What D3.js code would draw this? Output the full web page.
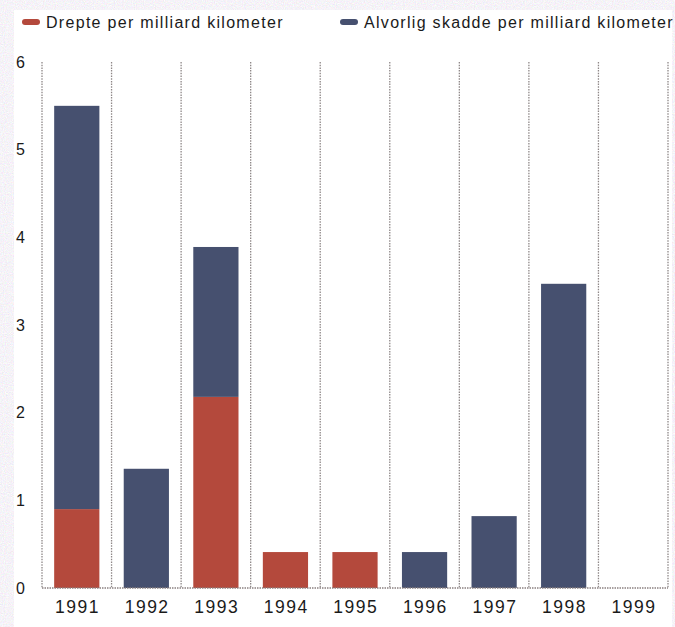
<!DOCTYPE html>
<html>
<head>
<meta charset="utf-8">
<script src="https://cdn.jsdelivr.net/npm/d3@7"></script>
<style>
  html, body { margin: 0; padding: 0; background: #ece8ec; }
  svg { display: block; }
  text { font-family: "Liberation Sans", Arial, sans-serif; fill: #1a1a1a; }
</style>
</head>
<body>
<svg id="chart" width="675" height="627"></svg>
<script>
// Road accidents per billion kilometres, by year
const years = ["1991", "1992", "1993", "1994", "1995", "1996", "1997", "1998", "1999"];
const killed = [0.90, 0, 2.18, 0.41, 0.41, 0, 0, 0, 0];
const injured = [4.60, 1.36, 1.71, 0, 0, 0.41, 0.82, 3.47, 0];
const seriesNames = ["Drepte per milliard kilometer", "Alvorlig skadde per milliard kilometer"];
const seriesColors = ["#b4493c", "#46506f"];
const yTicks = [0, 1, 2, 3, 4, 5, 6];

const svg = d3.select("#chart");
const W = 675, H = 627;

// grainy backdrop with a white panel on top
const defs = svg.append("defs");
const f = defs.append("filter").attr("id", "grain").attr("x", 0).attr("y", 0).attr("width", "100%").attr("height", "100%");
f.append("feTurbulence").attr("type", "fractalNoise").attr("baseFrequency", 0.9).attr("numOctaves", 2).attr("seed", 3).attr("result", "n");
f.append("feColorMatrix").attr("in", "n").attr("type", "matrix")
  .attr("values", "0.35 0 0 0 0.74  0 0.35 0 0 0.72  0 0 0.35 0 0.76  0 0 0 0 1");
svg.append("rect").attr("width", W).attr("height", H).attr("filter", "url(#grain)");
svg.append("rect").attr("x", 14).attr("y", 10).attr("width", 658).attr("height", H - 10).attr("fill", "#ffffff");

const margin = { left: 42, right: 7, top: 62, bottom: 39 };
const x = d3.scaleBand().domain(years).range([margin.left, W - margin.right]).paddingInner(0.35).paddingOuter(0.175);
const y = d3.scaleLinear().domain([0, 6]).range([H - margin.bottom, margin.top]);

// vertical separators between years
const bounds = years.map(yr => x(yr) - x.step() * x.paddingInner() / 2);
bounds.push(W - margin.right);
svg.append("g").selectAll("line").data(bounds).join("line")
  .attr("x1", d => d).attr("x2", d => d)
  .attr("y1", y(6)).attr("y2", y(0))
  .attr("stroke", "#8f8888").attr("stroke-width", 1.3).attr("stroke-dasharray", "1.5,1.2");

// stacked bars
const rows = years.map((yr, i) => ({ year: yr, killed: killed[i], injured: injured[i] }));
const stack = d3.stack().keys(["killed", "injured"])(rows);
svg.append("g").selectAll("g").data(stack).join("g")
  .attr("fill", (d, i) => seriesColors[i])
  .selectAll("rect").data(d => d).join("rect")
  .attr("x", d => x(d.data.year))
  .attr("width", x.bandwidth())
  .attr("y", d => y(d[1]))
  .attr("height", d => y(d[0]) - y(d[1]));

// baseline
svg.append("line")
  .attr("x1", margin.left).attr("x2", W - margin.right)
  .attr("y1", y(0)).attr("y2", y(0))
  .attr("stroke", "#8a8080").attr("stroke-width", 1.3).attr("stroke-dasharray", "1.5,1");

// y axis labels
const yAxis = d3.axisLeft(y).tickValues(yTicks).tickSize(0).tickPadding(0).tickFormat(d3.format("d"));
const gy = svg.append("g").attr("transform", "translate(25,0)").call(yAxis);
gy.select(".domain").remove();
gy.selectAll("text").attr("font-size", 16).attr("font-family", "Liberation Sans, Arial, sans-serif").attr("fill", "#1a1a1a");

// x axis labels
const xAxis = d3.axisBottom(x).tickSize(0).tickPadding(0);
const gx = svg.append("g").attr("transform", `translate(0.8,${y(0) + 13})`).call(xAxis);
gx.select(".domain").remove();
gx.selectAll("text").attr("font-size", 17.5).attr("letter-spacing", "1.5px")
  .attr("font-family", "Liberation Sans, Arial, sans-serif").attr("fill", "#1a1a1a");

// legend
const legendX = [22, 340];
const lg = svg.append("g").selectAll("g").data(seriesNames).join("g")
  .attr("transform", (d, i) => `translate(${legendX[i]},22)`);
lg.append("rect").attr("x", 0).attr("y", -3).attr("width", 18).attr("height", 6).attr("rx", 3)
  .attr("fill", (d, i) => seriesColors[i]);
lg.append("text").attr("x", 24).attr("y", 6).attr("font-size", 16).attr("letter-spacing", "1.3px").text(d => d);
</script>
</body>
</html>
